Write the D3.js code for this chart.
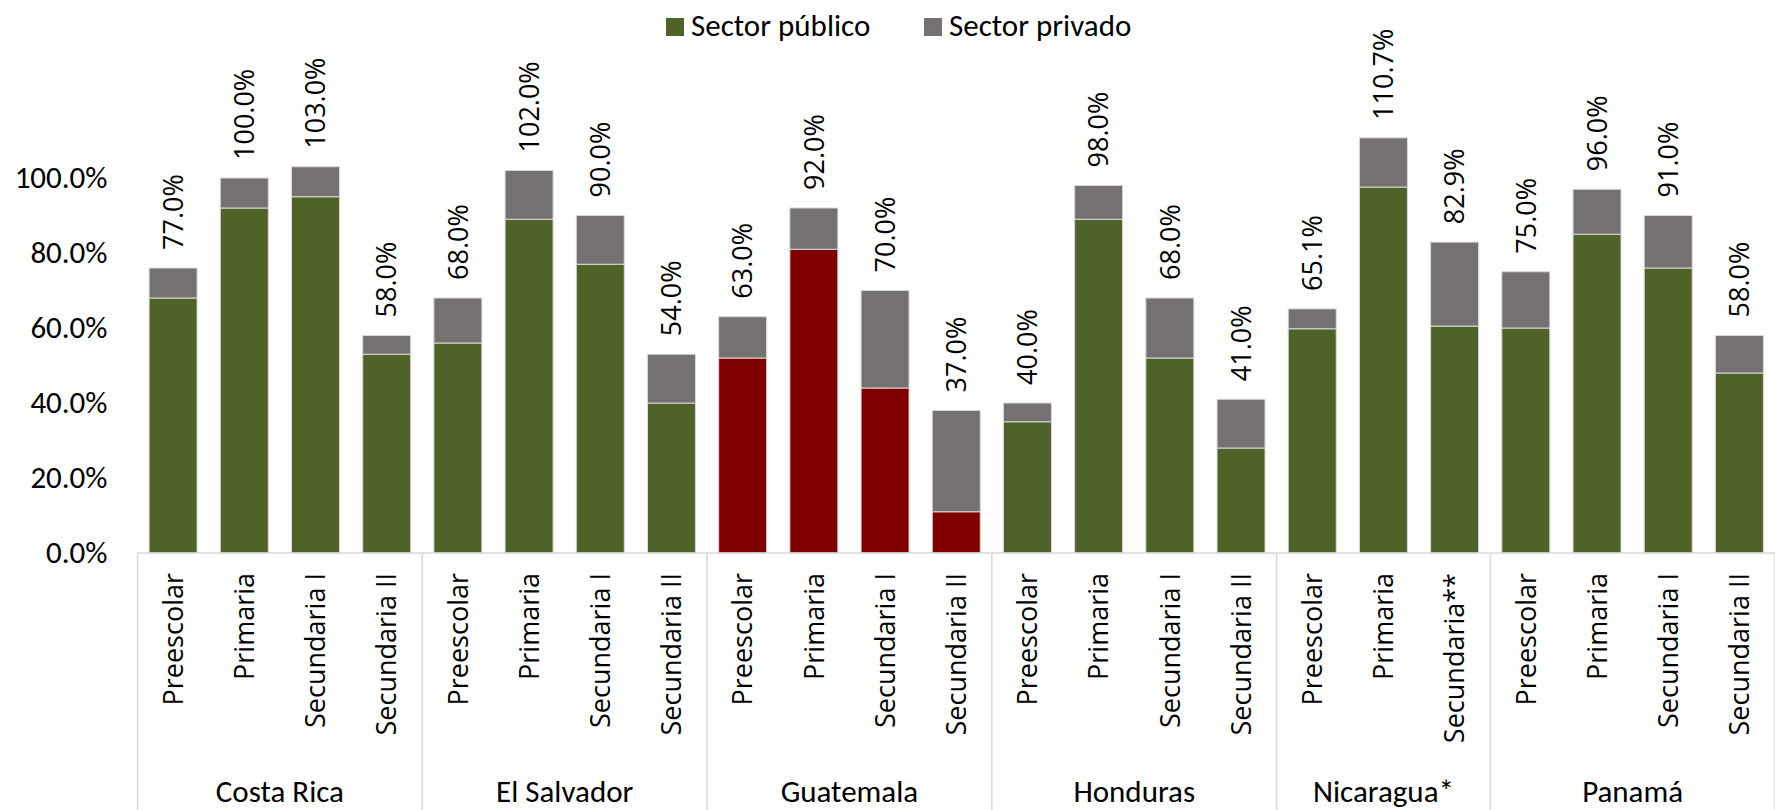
<!DOCTYPE html>
<html>
<head>
<meta charset="utf-8">
<script src="https://cdn.jsdelivr.net/npm/d3@7"></script>
<style>
  html, body { margin: 0; padding: 0; background: #fff; }
  #chart { width: 1775px; height: 810px; }
</style>
</head>
<body>
<div id="chart"></div>
<script>
// Countries and the school levels shown under each of them
const countries = ["Costa Rica", "El Salvador", "Guatemala", "Honduras", "Nicaragua*", "Panamá"];
const levels = [
  ["Preescolar", "Primaria", "Secundaria I", "Secundaria II"],
  ["Preescolar", "Primaria", "Secundaria I", "Secundaria II"],
  ["Preescolar", "Primaria", "Secundaria I", "Secundaria II"],
  ["Preescolar", "Primaria", "Secundaria I", "Secundaria II"],
  ["Preescolar", "Primaria", "Secundaria**"],
  ["Preescolar", "Primaria", "Secundaria I", "Secundaria II"]
];

// Series values (%), one per bar in reading order
const publico = [68, 92, 95, 53, 56, 89, 77, 40, 52, 81, 44, 11, 35, 89, 52, 28, 59.8, 97.6, 60.5, 60, 85, 76, 48];
const privado = [8, 8, 8, 5, 12, 13, 13, 13, 11, 11, 26, 27, 5, 9, 16, 13, 5.3, 13.1, 22.4, 15, 12, 14, 10];
// labels printed above the bars
const totalLabels = ["77.0%", "100.0%", "103.0%", "58.0%", "68.0%", "102.0%", "90.0%", "54.0%",
  "63.0%", "92.0%", "70.0%", "37.0%", "40.0%", "98.0%", "68.0%", "41.0%",
  "65.1%", "110.7%", "82.9%", "75.0%", "96.0%", "91.0%", "58.0%"];

const yTicks = [0, 20, 40, 60, 80, 100];
const seriesNames = ["Sector público", "Sector privado"];

const W = 1775, H = 810;
const left = 137.5, right = 1775, axisY = 553, topY = 178;
const calibri = "Carlito, Calibri, Lato, sans-serif";
const segoe = "'Open Sans', 'Noto Sans', sans-serif";

const green = "#4f6228", grey = "#767171", red = "#800000";

// flat list of bars
const bars = [];
countries.forEach((c, ci) => {
  levels[ci].forEach(l => {
    const i = bars.length;
    bars.push({ key: c + "|" + l, country: c, ci, level: l, pub: publico[i], priv: privado[i], label: totalLabels[i] });
  });
});

const svg = d3.select("#chart").append("svg")
  .attr("width", W).attr("height", H);

const gap = 0.326;
const x = d3.scaleBand()
  .domain(bars.map(d => d.key))
  .range([left, right])
  .paddingInner(gap)
  .paddingOuter(gap / 2);

const y = d3.scaleLinear().domain([0, 100]).range([axisY, topY]);

// y axis labels only
const yAxis = svg.append("g")
  .attr("transform", `translate(${left - 30},0)`)
  .call(d3.axisLeft(y).tickValues(yTicks).tickSize(0).tickFormat(d => d3.format(".1f")(d) + "%"));
yAxis.select(".domain").remove();
yAxis.selectAll("text")
  .attr("x", 0)
  .style("font-family", calibri)
  .style("font-size", "31px")
  .attr("fill", "#000");

// stacked bars
const stack = d3.stack().keys(["pub", "priv"]);
const layers = stack(bars);

svg.append("g").selectAll("g")
  .data(layers)
  .join("g")
  .selectAll("rect")
  .data(d => d.map(p => Object.assign(p, { layer: d.key })))
  .join("rect")
  .attr("x", d => x(d.data.key))
  .attr("width", x.bandwidth())
  .attr("y", d => y(d[1]))
  .attr("height", d => y(d[0]) - y(d[1]))
  .attr("fill", d => d.layer === "priv" ? grey : (d.data.country === "Guatemala" ? red : green))
  .attr("stroke", "#d9d9d9")
  .attr("stroke-width", 1);

// labels above bars
svg.append("g").selectAll("text")
  .data(bars)
  .join("text")
  .attr("transform", d => `translate(${x(d.key) + x.bandwidth() / 2},${y(d.pub + d.priv) - 18}) rotate(-90)`)
  .attr("dy", "0.36em")
  .attr("text-anchor", "start")
  .style("font-family", segoe)
  .style("font-size", "27px")
  .attr("fill", "#000")
  .text(d => d.label);

// category axis line and group separators
const axisG = svg.append("g");
axisG.append("line")
  .attr("x1", left).attr("x2", right)
  .attr("y1", axisY).attr("y2", axisY)
  .attr("stroke", "#d9d9d9").attr("stroke-width", 1.5);

const groups = countries.map((c, ci) => {
  const own = bars.filter(b => b.ci === ci);
  const x0 = x(own[0].key) - x.step() * gap / 2;
  const x1 = x0 + own.length * x.step();
  return { country: c, x0, x1 };
});

axisG.selectAll("line.sep")
  .data(groups.map(g => g.x0).concat([right]))
  .join("line")
  .attr("class", "sep")
  .attr("x1", d => d).attr("x2", d => d)
  .attr("y1", axisY).attr("y2", H)
  .attr("stroke", "#d9d9d9").attr("stroke-width", 1.5);

// level labels (rotated)
axisG.selectAll("text.level")
  .data(bars)
  .join("text")
  .attr("class", "level")
  .attr("transform", d => `translate(${x(d.key) + x.bandwidth() / 2},${axisY + 20}) rotate(-90)`)
  .attr("dy", "0.36em")
  .attr("text-anchor", "end")
  .style("font-family", segoe)
  .style("font-size", "27px")
  .attr("fill", "#000")
  .text(d => d.level);

// country labels
axisG.selectAll("text.country")
  .data(groups)
  .join("text")
  .attr("class", "country")
  .attr("x", d => (d.x0 + d.x1) / 2)
  .attr("y", 802)
  .attr("text-anchor", "middle")
  .style("font-family", calibri)
  .style("font-size", "31px")
  .attr("fill", "#000")
  .text(d => d.country);

// legend
const legend = svg.append("g");
const legendX = [666, 924];
seriesNames.forEach((name, i) => {
  legend.append("rect")
    .attr("x", legendX[i]).attr("y", 18)
    .attr("width", 18).attr("height", 18)
    .attr("fill", i === 0 ? green : grey);
  legend.append("text")
    .attr("x", legendX[i] + 25).attr("y", 36)
    .style("font-family", calibri)
    .style("font-size", "31px")
    .attr("fill", "#000")
    .text(name);
});
</script>
</body>
</html>
